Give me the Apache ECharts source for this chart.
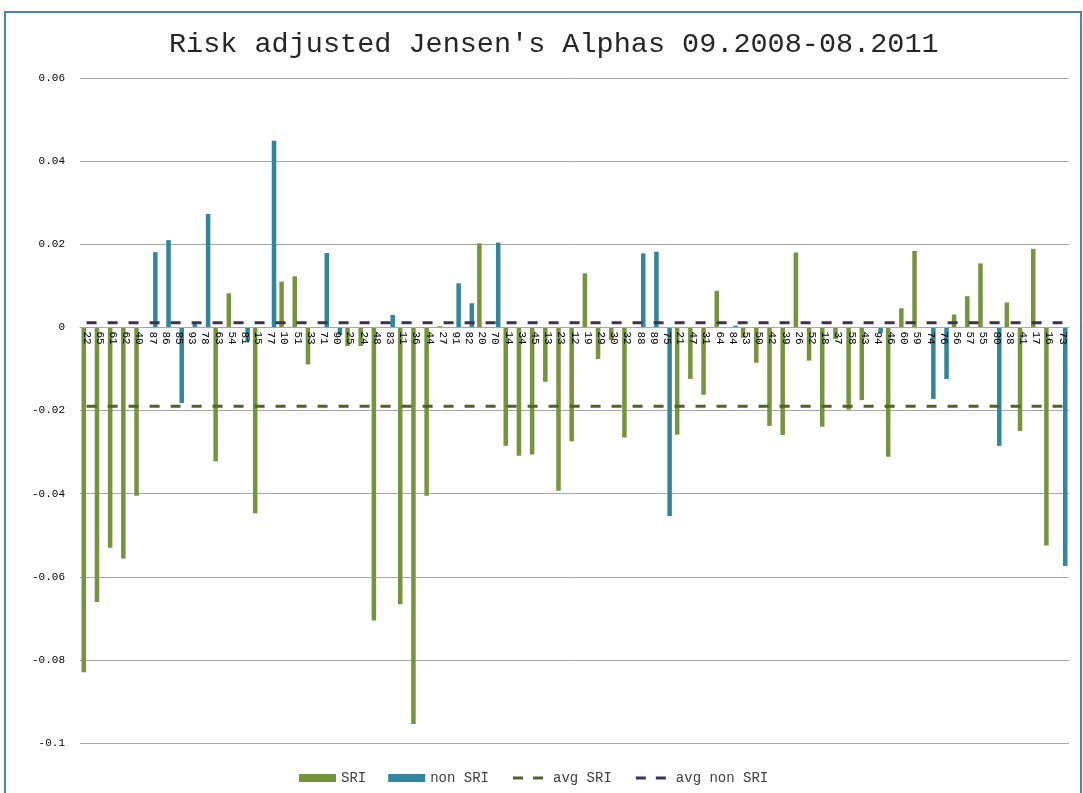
<!DOCTYPE html>
<html lang="en">

<head>
    <meta charset="utf-8">
    <title>Risk adjusted Jensen's Alphas</title>
    <script src="https://cdn.jsdelivr.net/npm/echarts@6/dist/echarts.min.js"></script>
    <style type="text/css">
        html, body {
            margin: 0;
            padding: 0;
            background: #fff;
        }
        #chart {
            width: 1083px;
            height: 793px;
        }
    </style>
</head>

<body>
    <div id="chart"></div>
    <script>
        // fund numbers, in the order they appear on the axis
        var funds = ['22', '65', '61', '62', '40', '87', '86', '85', '93', '78',
            '63', '54', '81', '15', '77', '10', '51', '33', '71', '90',
            '25', '24', '48', '83', '11', '36', '44', '27', '91', '82',
            '20', '70', '14', '34', '45', '13', '23', '12', '19', '29',
            '30', '32', '88', '89', '75', '21', '47', '31', '64', '84',
            '53', '50', '42', '39', '26', '52', '18', '37', '58', '43',
            '94', '46', '60', '59', '74', '76', '56', '57', '55', '80',
            '38', '41', '17', '16', '73'];

        // SRI alphas (null = fund is non SRI)
        var sri = [-0.0830, -0.0661, -0.0530, -0.0556, -0.0405, null, null, null, null, null,
            -0.0322, 0.0082, null, -0.0447, null, 0.0110, 0.0123, -0.0089, null, null,
            -0.0045, -0.0045, -0.0705, null, -0.0666, -0.0954, -0.0405, 0.0003, null, null,
            0.0202, null, -0.0285, -0.0309, -0.0306, -0.0131, -0.0393, -0.0274, 0.0130, -0.0076,
            -0.0030, -0.0265, null, null, null, -0.0258, -0.0124, -0.0162, 0.0088, null,
            -0.0025, -0.0085, -0.0237, -0.0259, 0.0180, -0.0080, -0.0239, -0.0028, -0.0198, -0.0175,
            null, -0.0311, 0.0046, 0.0184, null, null, 0.0031, 0.0075, 0.0154, null,
            0.0060, -0.0249, 0.0189, -0.0525, null];

        // non SRI alphas (null = fund is SRI)
        var nonSri = [null, null, null, null, null, 0.0181, 0.0210, -0.0182, 0.0008, 0.0273,
            null, null, -0.0033, null, 0.0449, null, null, null, 0.0179, -0.0018,
            null, null, null, 0.0030, null, null, null, null, 0.0106, 0.0058,
            null, 0.0204, null, null, null, null, null, null, null, null,
            null, null, 0.0178, 0.0182, -0.0454, null, null, null, null, 0.0004,
            null, null, null, null, null, null, null, null, null, null,
            -0.0013, null, null, null, -0.0172, -0.0124, null, null, null, -0.0285,
            null, null, null, null, -0.0574];

        var avgSri = -0.0190;
        var avgNonSri = 0.0011;

        var yTicks = [-0.1, -0.08, -0.06, -0.04, -0.02, 0, 0.02, 0.04, 0.06];

        var mono = '"Liberation Mono", "DejaVu Sans Mono", monospace';

        // grid box, used to park the category labels on the zero line
        var gridTop = 78, gridBottom = 50, chartH = 793;
        var plotH = chartH - gridTop - gridBottom;
        var yMin = yTicks[0], yMax = yTicks[yTicks.length - 1];
        var zeroOffset = -plotH * (0 - yMin) / (yMax - yMin);

        // two short dashes, padded so the legend does not stretch them
        var dashIcon = 'path://M0,0 L0.01,0 L0.01,0.01 Z M2,2.5 L12,2.5 L12,5.5 L2,5.5 Z ' +
            'M22,2.5 L32,2.5 L32,5.5 L22,5.5 Z M37,8 L36.99,8 L36.99,7.99 Z';

        var chart = echarts.init(document.getElementById('chart'));
        option = {
            backgroundColor: '#fff',
            animation: false,
            title: {
                text: "Risk adjusted Jensen's Alphas 09.2008-08.2011",
                left: 164,
                top: 25,
                textStyle: {
                    fontFamily: mono,
                    fontSize: 28.5,
                    fontWeight: 'normal',
                    color: '#262626'
                }
            },
            graphic: [{
                type: 'rect',
                shape: { x: 5, y: 12, width: 1076, height: 790 },
                style: { fill: null, stroke: '#4f81bd', lineWidth: 2 },
                silent: true
            }],
            legend: {
                left: 294,
                top: 766,
                itemWidth: 37,
                itemHeight: 8,
                itemGap: 22,
                textStyle: {
                    fontFamily: mono,
                    fontSize: 14,
                    color: '#404040'
                },
                data: [
                    { name: 'SRI', icon: 'rect' },
                    { name: 'non SRI', icon: 'rect' },
                    { name: 'avg SRI', icon: dashIcon, itemStyle: { color: '#4f6228' } },
                    { name: 'avg non SRI', icon: dashIcon, itemStyle: { color: '#403151' } }
                ]
            },
            grid: {
                left: 80,
                right: 14,
                top: gridTop,
                bottom: gridBottom
            },
            xAxis: {
                type: 'category',
                data: funds,
                offset: zeroOffset,
                z: 10,
                axisLine: {
                    onZero: false,
                    lineStyle: { color: '#a6a6a6', width: 1 }
                },
                axisTick: { show: false },
                axisLabel: {
                    interval: 0,
                    rotate: -90,
                    margin: 4,
                    fontFamily: mono,
                    fontSize: 11,
                    color: '#000'
                },
                splitLine: { show: false }
            },
            yAxis: {
                type: 'value',
                min: yMin,
                max: yMax,
                interval: 0.02,
                axisLine: { show: false },
                axisTick: { show: false },
                axisLabel: {
                    margin: 15,
                    fontFamily: mono,
                    fontSize: 11,
                    color: '#000',
                    formatter: function(v) {
                        var r = Math.round(v * 100) / 100;
                        if (r === 0) return '0';
                        return String(r);
                    }
                },
                splitLine: {
                    show: true,
                    lineStyle: { color: '#a6a6a6', width: 1 }
                }
            },
            series: [{
                name: 'SRI',
                type: 'bar',
                data: sri,
                barWidth: 4.5,
                barGap: '25%',
                itemStyle: { color: '#77933c' }
            }, {
                name: 'non SRI',
                type: 'bar',
                data: nonSri,
                barWidth: 4.5,
                itemStyle: { color: '#31859c' }
            }, {
                name: 'avg SRI',
                type: 'line',
                data: funds.map(function() { return avgSri; }),
                symbol: 'none',
                lineStyle: { color: '#4f6228', width: 3, type: [10, 11] },
                itemStyle: { color: '#4f6228' }
            }, {
                name: 'avg non SRI',
                type: 'line',
                data: funds.map(function() { return avgNonSri; }),
                symbol: 'none',
                lineStyle: { color: '#403151', width: 3, type: [10, 11] },
                itemStyle: { color: '#403151' }
            }]
        };
        chart.setOption(option);
    </script>
</body>

</html>
